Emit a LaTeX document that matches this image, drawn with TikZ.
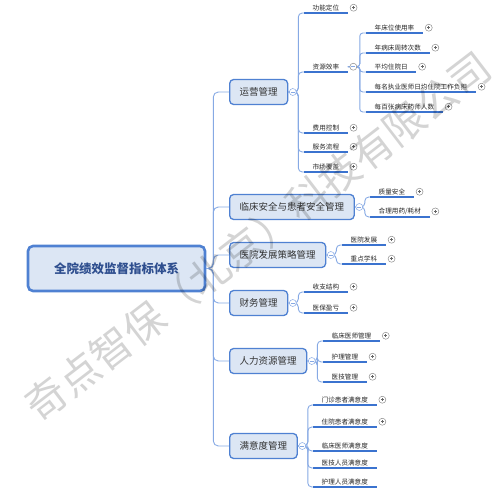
\documentclass[tikz,border=0pt]{standalone}
\usepackage{fontspec}
\setmainfont{Noto Sans CJK SC}
\definecolor{boxfill}{HTML}{DCE6F4}
\definecolor{boxline}{HTML}{4F81D2}
\definecolor{linkblue}{HTML}{86A9E4}
\definecolor{ulblue}{HTML}{3B73CF}
\definecolor{roottext}{HTML}{2F4F8F}

\begin{document}
\begin{tikzpicture}[x=1pt,y=-1pt,
  root/.style={draw=boxline,line width=2.6pt,fill=boxfill,rounded corners=5pt,minimum width=177pt,minimum height=45pt,text=roottext,font=\fontsize{12.5}{14}\selectfont\bfseries},
  topic/.style={draw=boxline,line width=1.3pt,fill=boxfill,rounded corners=4pt,minimum height=25pt,inner xsep=10pt,anchor=west,text=black!80,font=\fontsize{9.5}{11}\selectfont},
  leaf/.style={anchor=south west,inner xsep=8.5pt,inner ysep=2pt,text=black!85,font=\fontsize{6.6}{8}\selectfont,append after command={(\tikzlastnode.south west) edge[ul] (\tikzlastnode.south east)}},
  ul/.style={draw=ulblue,line width=1.8pt},
  link/.style={draw=linkblue,line width=0.9pt,rounded corners=4pt},
  expd/.style={circle,draw=black!45,line width=0.5pt,fill=white,minimum size=7pt,inner sep=0pt,
    path picture={\draw[black!60,line width=0.6pt] ([xshift=-1.5pt]path picture bounding box.center) -- ([xshift=1.5pt]path picture bounding box.center) ([yshift=-1.5pt]path picture bounding box.center) -- ([yshift=1.5pt]path picture bounding box.center);}},
  plus/.style={label={[expd,label distance=2pt]right:{}}},
  fold/.style={circle,draw=linkblue,line width=0.5pt,fill=white,minimum size=7pt,inner sep=0pt,
    path picture={\draw[linkblue,line width=0.6pt] ([xshift=-2pt]path picture bounding box.center) -- ([xshift=2pt]path picture bounding box.center);}},
  wmark/.style={text=black,opacity=0.17,font=\fontsize{41}{41}\selectfont}]
\useasboundingbox (0,0) rectangle (500,502);

\node[root] (qy) at (116.5,268.5) {全院绩效监督指标体系};
\node[topic] (yy) at (229,92) {运营管理};
\node[topic] (lc) at (229,207) {临床安全与患者安全管理};
\node[topic] (fz) at (229,255) {医院发展策略管理};
\node[topic] (cw) at (229,303) {财务管理};
\node[topic] (rl) at (229,361) {人力资源管理};
\node[topic] (my) at (229,446) {满意度管理};

\node[leaf,plus] (gndw) at (304,13) {功能定位};
\node[leaf] (zyxl) at (304,72) {资源效率};
\node[leaf,plus] (fykz) at (304,133) {费用控制};
\node[leaf,plus] (fwlc) at (304,152) {服务流程};
\node[leaf,plus] (scfg) at (304,172) {市场覆盖};

\node[leaf,plus] (ncw) at (366,33) {年床位使用率};
\node[leaf,plus] (nbc) at (366,53) {年病床周转次数};
\node[leaf,plus] (pjz) at (366,72) {平均住院日};
\node[leaf,plus] (mmy) at (366,92) {每名执业医师日均住院工作负担};
\node[leaf,plus] (mbz) at (366,112) {每百张病床药师人数};

\node[leaf,plus] (zlaq) at (370,197) {质量安全};
\node[leaf,plus] (hlyy) at (370,217) {合理用药/耗材};

\node[leaf,plus] (yyfz) at (342,245) {医院发展};
\node[leaf,plus] (zdxk) at (342,264) {重点学科};

\node[leaf,plus] (szjg) at (304,292) {收支结构};
\node[leaf,plus] (ybyk) at (304,313) {医保盈亏};

\node[leaf,plus] (lcys) at (323,341) {临床医师管理};
\node[leaf,plus] (hlgl) at (323,362) {护理管理};
\node[leaf,plus] (yjgl) at (323,382) {医技管理};

\node[leaf,plus] (mzhz) at (313,405) {门诊患者满意度};
\node[leaf,plus] (zyhz) at (313,427) {住院患者满意度};
\node[leaf] (lcmy) at (313,451) {临床医师满意度};
\node[leaf] (yjry) at (313,468) {医技人员满意度};
\node[leaf] (hlry) at (313,487) {护理人员满意度};

\foreach \t in {yy,lc,fz,cw,rl,my}
  \draw[link,rounded corners=5pt] (qy.east) -- ++(7,0) |- (\t.west);
\foreach \c in {gndw,zyxl,fykz,fwlc,scfg}
  \draw[link] (yy.east) -- ++(10,0) |- (\c.south west);
\foreach \c in {ncw,nbc,pjz,mmy,mbz}
  \draw[link,rounded corners=3pt] (zyxl.east) -- ++(12,0) |- (\c.south west);
\foreach \c in {zlaq,hlyy}
  \draw[link] (lc.east) -- ++(10,0) |- (\c.south west);
\foreach \c in {yyfz,zdxk}
  \draw[link] (fz.east) -- ++(10,0) |- (\c.south west);
\foreach \c in {szjg,ybyk}
  \draw[link] (cw.east) -- ++(10,0) |- (\c.south west);
\foreach \c in {lcys,hlgl,yjgl}
  \draw[link] (rl.east) -- ++(10,0) |- (\c.south west);
\foreach \c in {mzhz,zyhz,lcmy,yjry,hlry}
  \draw[link] (my.east) -- ++(10,0) |- (\c.south west);

\node[fold] (yyf) at ([xshift=4.5pt]yy.east) {};
\node[fold] (lcf) at ([xshift=4.5pt]lc.east) {};
\node[fold] (fzf) at ([xshift=4.5pt]fz.east) {};
\node[fold] (cwf) at ([xshift=4.5pt]cw.east) {};
\node[fold] (rlf) at ([xshift=4.5pt]rl.east) {};
\node[fold] (myf) at ([xshift=4.5pt]my.east) {};
\node[fold,draw=black!45] (zyxlf) at ([xshift=5.5pt]zyxl.east) {};

\node[wmark,rotate=37.5] (wm) at (258,236) {奇点智保（北京）科技有限公司};
\end{tikzpicture}
\end{document}
